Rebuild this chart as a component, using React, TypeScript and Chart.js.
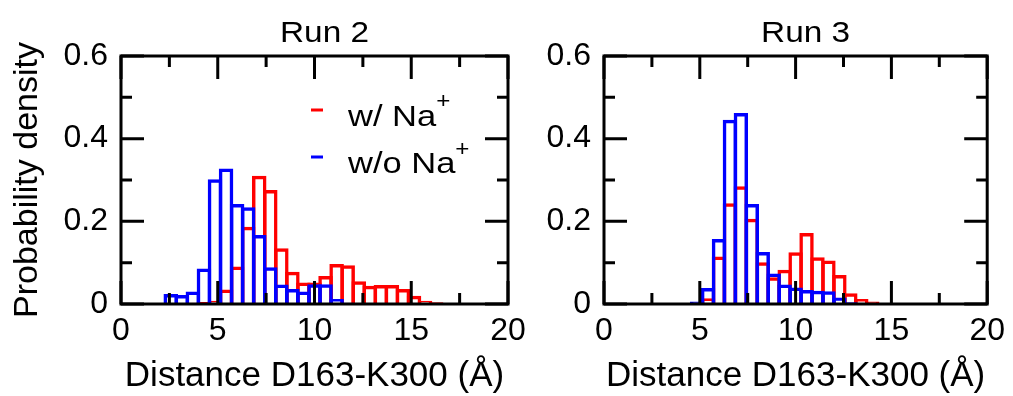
import React, { useEffect, useRef } from "react";
import { Chart, registerables } from "chart.js";

Chart.register(...registerables);

// Histogram bin centres (35 bins of width 20/35 Å between 0 and 20 Å)
const binCenters = [
  0.286, 0.857, 1.429, 2.0, 2.571, 3.143, 3.714, 4.286, 4.857, 5.429, 6.0, 6.571,
  7.143, 7.714, 8.286, 8.857, 9.429, 10.0, 10.571, 11.143, 11.714, 12.286, 12.857,
  13.429, 14.0, 14.571, 15.143, 15.714, 16.286, 16.857, 17.429, 18.0, 18.571,
  19.143, 19.714,
];

// Run 2
const run2WithNa = [
  0, 0, 0, 0, 0.002, 0.002, 0.003, 0.005, 0.008, 0.035, 0.091, 0.187, 0.31, 0.276,
  0.135, 0.078, 0.052, 0.052, 0.068, 0.097, 0.094, 0.055, 0.044, 0.046, 0.046,
  0.036, 0.02, 0.008, 0.004, 0, 0, 0, 0, 0, 0,
];
const run2WithoutNa = [
  0, 0, 0, 0, 0.024, 0.022, 0.03, 0.086, 0.302, 0.328, 0.242, 0.234, 0.167, 0.089,
  0.047, 0.036, 0.03, 0.048, 0.048, 0.012, 0.003, 0, 0, 0, 0, 0, 0, 0, 0, 0, 0, 0,
  0, 0, 0,
];

// Run 3
const run3WithNa = [
  0, 0, 0, 0, 0, 0, 0, 0, 0.003, 0.014, 0.115, 0.244, 0.285, 0.206, 0.101, 0.065,
  0.083, 0.125, 0.172, 0.113, 0.105, 0.07, 0.026, 0.012, 0.006, 0.002, 0, 0, 0, 0,
  0, 0, 0, 0, 0,
];
const run3WithoutNa = [
  0, 0, 0, 0, 0, 0, 0, 0, 0.006, 0.039, 0.157, 0.446, 0.462, 0.242, 0.126, 0.074,
  0.047, 0.04, 0.034, 0.032, 0.031, 0.016, 0.004, 0, 0, 0, 0, 0, 0, 0, 0, 0, 0, 0,
  0,
];

const panelTitles = ["Run 2", "Run 3"];
const seriesLabels = ["w/ Na", "w/o Na"];
const seriesSuperscript = "+";
const xAxisTitle = "Distance D163-K300 (Å)";
const yAxisTitle = "Probability density";
const xMajorTicks = [0, 5, 10, 15, 20];
const xMinorTicks = [2.5, 7.5, 12.5, 17.5];
const yMajorTicks = [0, 0.2, 0.4, 0.6];
const yMinorTicks = [0.1, 0.3, 0.5];

const RED = "#ff0000";
const BLUE = "#0000ff";
const FONT = '"Liberation Sans", Arial, Helvetica, sans-serif';

function drawStretched(
  ctx: CanvasRenderingContext2D,
  text: string,
  x: number,
  y: number,
  size: number,
  sx: number,
  align: CanvasTextAlign
): number {
  ctx.save();
  ctx.font = `${size}px ${FONT}`;
  ctx.fillStyle = "#000";
  ctx.textAlign = align;
  ctx.textBaseline = "alphabetic";
  ctx.translate(x, y);
  ctx.scale(sx, 1);
  ctx.fillText(text, 0, 0);
  const w = ctx.measureText(text).width * sx;
  ctx.restore();
  return w;
}

function makePlugin(panel: number) {
  return {
    id: "frameAndText" + panel,
    afterDatasetsDraw(chart: any) {
      const { ctx, chartArea, scales } = chart;
      const { left, right, top, bottom } = chartArea;
      const x = scales.x;
      const y = scales.y;
      ctx.save();
      ctx.strokeStyle = "#000";
      ctx.lineWidth = 3;
      ctx.lineCap = "butt";
      ctx.beginPath();
      const xt = (v: number, len: number) => {
        const px = x.getPixelForValue(v);
        ctx.moveTo(px, bottom);
        ctx.lineTo(px, bottom - len);
        ctx.moveTo(px, top);
        ctx.lineTo(px, top + len);
      };
      const yt = (v: number, len: number) => {
        const py = y.getPixelForValue(v);
        ctx.moveTo(left, py);
        ctx.lineTo(left + len, py);
        ctx.moveTo(right, py);
        ctx.lineTo(right - len, py);
      };
      xMajorTicks.forEach((v) => xt(v, 23));
      xMinorTicks.forEach((v) => xt(v, 11));
      yMajorTicks.forEach((v) => yt(v, 23));
      yMinorTicks.forEach((v) => yt(v, 11));
      ctx.stroke();
      ctx.strokeRect(left, top, right - left, bottom - top);
      ctx.restore();
    },
    afterDraw(chart: any) {
      const { ctx, chartArea } = chart;
      const cx = (chartArea.left + chartArea.right) / 2 + 10;
      drawStretched(ctx, panelTitles[panel], cx, 42, 29, 1.15, "center");
      if (panel === 0) {
        // legend
        ctx.save();
        ctx.lineWidth = 3;
        ctx.strokeStyle = RED;
        ctx.beginPath();
        ctx.moveTo(311, 110);
        ctx.lineTo(323, 110);
        ctx.stroke();
        ctx.strokeStyle = BLUE;
        ctx.beginPath();
        ctx.moveTo(311, 157);
        ctx.lineTo(323, 157);
        ctx.stroke();
        ctx.restore();
        const w1 = drawStretched(ctx, seriesLabels[0], 348, 126, 30, 1.15, "left");
        drawStretched(ctx, seriesSuperscript, 348 + w1, 108, 22, 1.1, "left");
        const w2 = drawStretched(ctx, seriesLabels[1], 348, 173, 30, 1.15, "left");
        drawStretched(ctx, seriesSuperscript, 348 + w2, 156, 22, 1.1, "left");
      }
    },
  };
}

function makeConfig(panel: number): any {
  const withNa = panel === 0 ? run2WithNa : run3WithNa;
  const withoutNa = panel === 0 ? run2WithoutNa : run3WithoutNa;
  const yWidth = panel === 0 ? 121 : 64;
  const padRight = panel === 0 ? 32 : 23;
  const barOpts = {
    borderWidth: 3.5,
    backgroundColor: "rgba(0,0,0,0)",
    grouped: false,
    barPercentage: 1.317,
    categoryPercentage: 1,
  };
  return {
    type: "bar",
    data: {
      datasets: [
        {
          ...barOpts,
          label: seriesLabels[1] + seriesSuperscript,
          data: binCenters.map((c, i) => ({ x: c, y: withoutNa[i] })),
          borderColor: BLUE,
          order: 0,
        },
        {
          ...barOpts,
          label: seriesLabels[0] + seriesSuperscript,
          data: binCenters.map((c, i) => ({ x: c, y: withNa[i] })),
          borderColor: RED,
          order: 1,
        },
      ],
    },
    options: {
      responsive: false,
      animation: false,
      devicePixelRatio: 1,
      layout: { padding: { left: 0, top: 56, right: padRight, bottom: 0 } },
      plugins: {
        legend: { display: false },
        tooltip: { enabled: false },
        title: { display: false },
      },
      scales: {
        x: {
          type: "linear",
          min: 0,
          max: 20,
          offset: false,
          grid: { display: false, drawTicks: false },
          border: { display: false },
          ticks: {
            stepSize: 5,
            color: "#000",
            font: { family: FONT, size: 32 },
            padding: 8,
            maxRotation: 0,
            autoSkip: false,
          },
          title: {
            display: true,
            text: xAxisTitle,
            color: "#000",
            font: { family: FONT, size: 35, lineHeight: 1 },
            padding: { top: 0, bottom: 2 },
          },
          afterFit: (s: any) => {
            s.height = 92;
          },
        },
        y: {
          type: "linear",
          min: 0,
          max: 0.6,
          grid: { display: false, drawTicks: false },
          border: { display: false },
          ticks: {
            stepSize: 0.2,
            color: "#000",
            font: { family: FONT, size: 32 },
            padding: 13,
            callback: (v: number) => String(Math.round(v * 10) / 10),
          },
          title: {
            display: panel === 0,
            text: yAxisTitle,
            color: "#000",
            font: { family: FONT, size: 34, lineHeight: 1 },
            padding: { top: 11, bottom: 0 },
          },
          afterFit: (s: any) => {
            s.width = yWidth;
          },
        },
      },
    },
    plugins: [makePlugin(panel)],
  };
}

function Panel({ panel, left, width }: { panel: number; left: number; width: number }) {
  const ref = useRef<HTMLCanvasElement | null>(null);
  useEffect(() => {
    if (!ref.current) return;
    const chart = new Chart(ref.current, makeConfig(panel));
    return () => chart.destroy();
  }, [panel]);
  return (
    <canvas
      ref={ref}
      width={width}
      height={396}
      style={{ position: "absolute", left, top: 0, width, height: 396, display: "block" }}
    />
  );
}

export default function App() {
  return (
    <div
      style={{
        position: "absolute",
        left: 0,
        top: 0,
        width: 1013,
        height: 396,
        background: "#fff",
        overflow: "hidden",
      }}
    >
      <Panel panel={0} left={0} width={540} />
      <Panel panel={1} left={540} width={473} />
    </div>
  );
}
